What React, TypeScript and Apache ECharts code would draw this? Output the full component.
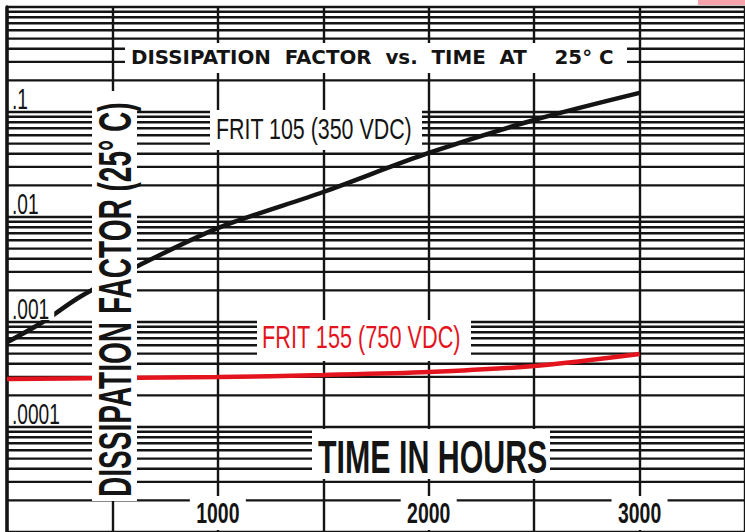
import React, { useEffect, useRef } from "react";
import * as echarts from "echarts";

// ---- data ----
const frit105Hours = [0, 170, 345, 630, 1000, 1500, 2000, 2500, 3000];
const frit105DF = [0.00064, 0.001, 0.00173, 0.00349, 0.00785, 0.0173, 0.0407, 0.0839, 0.152];
const frit155Hours = [0, 500, 1000, 1500, 2000, 2500, 3000];
const frit155DF = [0.000286, 0.000293, 0.000299, 0.000313, 0.000334, 0.000381, 0.000496];

const hourTickValues = [1000, 2000, 3000];
const hourTickLabels = ["1000", "2000", "3000"];
const dfTickValues = [0.1, 0.01, 0.001, 0.0001];
const dfTickLabels = [".1", ".01", ".001", ".0001"];

const gridDecades = [0.00001, 0.0001, 0.001, 0.01, 0.1, 1];
const gridMultipliers = [1, 2, 3, 4, 5, 6, 7, 8, 9];

const INK = "#141414";
const RED = "#e3141d";
const LINE_FONT = '"Liberation Sans", Arial, sans-serif';

export default function App() {
  const ref = useRef<HTMLDivElement>(null);

  useEffect(() => {
    if (!ref.current) return;
    const chart = echarts.init(ref.current, undefined, { renderer: "svg" });

    const gridValues: number[] = [];
    gridDecades.forEach((d) =>
      gridMultipliers.forEach((m) => {
        const v = m * d;
        if (v <= 1.0000001) gridValues.push(v);
      })
    );

    chart.setOption({
      animation: false,
      backgroundColor: "#ffffff",
      grid: { left: 7, right: -4, top: 7, bottom: 0, containLabel: false },
      xAxis: {
        type: "value",
        min: 0,
        max: 3500,
        interval: 500,
        axisLine: { show: false },
        axisTick: { show: false },
        axisLabel: { show: false },
        splitLine: { show: true, lineStyle: { color: INK, width: 2.4 } },
      },
      yAxis: {
        type: "log",
        logBase: 10,
        min: 0.00001,
        max: 1,
        axisLine: { show: true, onZero: false, lineStyle: { color: INK, width: 3.5 } },
        axisTick: { show: false },
        axisLabel: { show: false },
        splitLine: { show: false },
      },
      series: [
        {
          type: "custom",
          name: "paper",
          silent: true,
          z: 1,
          clip: false,
          data: gridValues.map((v) => [0, v]),
          encode: { x: 0, y: 1 },
          renderItem: (params: any, api: any) => {
            const cs = params.coordSys;
            const y = api.coord([0, api.value(1)])[1];
            return {
              type: "line",
              shape: { x1: cs.x, y1: y, x2: cs.x + cs.width, y2: y },
              style: { stroke: INK, lineWidth: 2.4 },
            };
          },
        },
        {
          type: "line",
          name: "FRIT 105 (350 VDC)",
          data: frit105Hours.map((h, i) => [h, frit105DF[i]]),
          smooth: 0.3,
          showSymbol: false,
          z: 3,
          lineStyle: { color: INK, width: 4.5 },
        },
        {
          type: "line",
          name: "FRIT 155 (750 VDC)",
          data: frit155Hours.map((h, i) => [h, frit155DF[i]]),
          smooth: 0.3,
          showSymbol: false,
          z: 3,
          lineStyle: { color: RED, width: 4.5 },
        },
      ],
    });

    const Z = 100;
    const box = (x: number, y: number, w: number, h: number) => ({
      type: "rect",
      z: Z,
      shape: { x, y, width: w, height: h },
      style: { fill: "#ffffff" },
      silent: true,
    });
    const txt = (
      text: string,
      x: number,
      y: number,
      font: string,
      scaleX: number,
      align: string,
      fill = INK,
      rotation = 0
    ) => ({
      type: "text",
      z: Z + 1,
      x,
      y,
      scaleX,
      rotation,
      silent: true,
      style: { text, font, fill, textAlign: align, textVerticalAlign: "middle" },
    });

    const elements: any[] = [];
    // scan smudge top right
    elements.push({
      type: "rect",
      z: Z,
      shape: { x: 698, y: 0, width: 47, height: 5 },
      style: { fill: "#f3a3a9" },
      silent: true,
    });
    // title
    elements.push(box(125, 43, 502, 30));
    elements.push(
      txt(
        "DISSIPATION  FACTOR  vs.  TIME  AT    25° C",
        131,
        58,
        'bold 19px "DejaVu Sans", sans-serif',
        1.045,
        "left"
      )
    );
    // y axis title
    elements.push(box(92, 91, 45, 410));
    elements.push(
      txt("DISSIPATION FACTOR (25° C)", 115, 497, "bold 46px " + LINE_FONT, 0.61, "left", INK, Math.PI / 2)
    );
    // series labels
    elements.push(box(210, 110, 212, 40));
    elements.push(txt("FRIT 105 (350 VDC)", 216, 129, "30px " + LINE_FONT, 0.713, "left"));
    elements.push(box(257, 320, 214, 41));
    elements.push(txt("FRIT 155 (750 VDC)", 262, 338, "31px " + LINE_FONT, 0.7, "left", RED));
    // x axis title
    elements.push(box(312, 429, 238, 50));
    elements.push(txt("TIME IN HOURS", 318, 457, "bold 46px " + LINE_FONT, 0.66, "left"));

    // x tick labels
    hourTickValues.forEach((h, i) => {
      const px = chart.convertToPixel({ xAxisIndex: 0 }, h) as number;
      elements.push(box(px - 28, 496, 56, 34));
      elements.push(txt(hourTickLabels[i], px, 513, "bold 29px " + LINE_FONT, 0.67, "center"));
    });
    // y tick labels
    dfTickValues.forEach((v, i) => {
      const py = chart.convertToPixel({ yAxisIndex: 0 }, v) as number;
      const w = (0.278 + 0.556 * (dfTickLabels[i].length - 1)) * 29 * 0.66;
      elements.push(box(9, py - 29, w + 8, 27));
      elements.push(txt(dfTickLabels[i], 12, py - 13.5, "29px " + LINE_FONT, 0.66, "left"));
    });

    chart.setOption({ graphic: { elements } });

    return () => chart.dispose();
  }, []);

  return (
    <div
      ref={ref}
      style={{ position: "fixed", left: 0, top: 0, width: 745, height: 532, background: "#fff" }}
    />
  );
}
